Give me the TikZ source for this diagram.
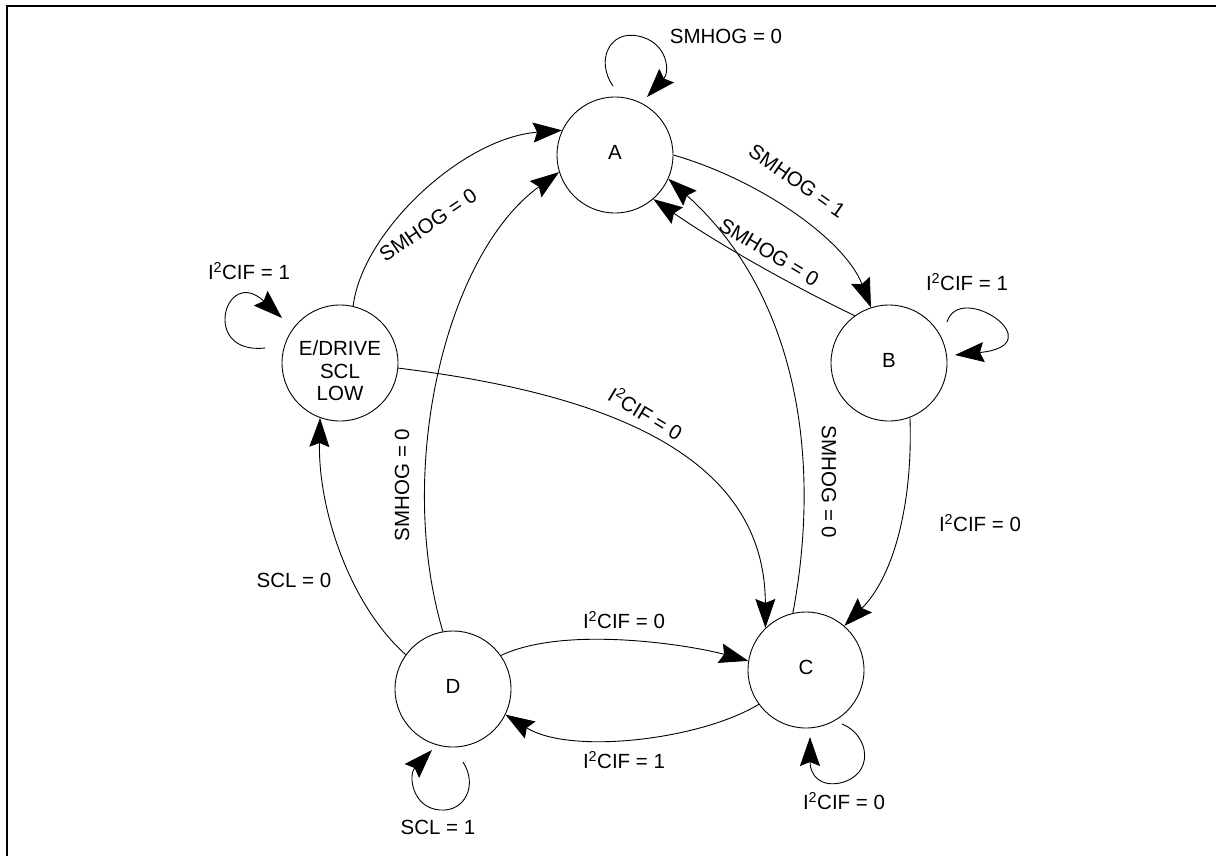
\documentclass[tikz,border=0pt]{standalone}
\usepackage{fontspec}
\setmainfont{Liberation Sans}
\usetikzlibrary{arrows.meta}
\newcommand\lblfont{\fontsize{20.5pt}{22.5pt}\selectfont}
\begin{document}
\begin{tikzpicture}[x=1pt,y=-1pt,
  state/.style={circle,draw,line width=0.9pt,minimum size=116pt,inner sep=0pt,font=\lblfont,text height=14.7pt,text depth=6pt},
  lbl/.style={font=\lblfont,inner sep=0pt},
  arr/.style={line width=0.9pt,-{Stealth[length=29pt,width=20pt,inset=4pt]}}]
\useasboundingbox (0,0) rectangle (1216,855);
\draw[line width=2.3pt] (7,860) -- (7,5.7) -- (1220,5.7);
% states
\node[state] (A) at (615,155) {A};
\node[state] (B) at (889,363) {B};
\node[state] (E) at (340,363) {};
\node[lbl,align=center] (Etext) at (340,371) {E/DRIVE\\SCL\\LOW};
\node[state] (D) at (453,689) {D};
\node[state] (C) at (806,670) {C};
% transitions
\draw[arr] (A.0) .. controls (760,180) and (845,240) .. (B.108);
\draw[arr] (B.126) .. controls (785,282) and (717,243) .. (A.-49);
\draw[arr] (C.103) .. controls (820,470) and (803,300) .. (A.-24);
\draw[arr] (B.-69) .. controls (913,500) and (895,575) .. (C.49);
\draw[arr] (E.77) .. controls (362,232) and (462,138) .. (A.155);
\draw[arr] (E.-5) .. controls (600,393) and (765,452) .. (C.134);
\draw[arr] (D.100) .. controls (395,470) and (445,255) .. (A.-163);
\draw[arr] (D.144) .. controls (350,605) and (318,510) .. (E.-110);
\draw[arr] (D.35) .. controls (565,625) and (690,645) .. (C.171);
\draw[arr] (C.-144) .. controls (700,740) and (570,755) .. (D.-26);
% self loops
\coordinate (Aa) at (613,86); \coordinate (Ab) at (647,97);
\draw[arr] (Aa) .. controls (595,60) and (610,30) .. (638,36) .. controls (668,42) and (670,72) .. (Ab);
\coordinate (Ea) at (265,348); \coordinate (Eb) at (282,318);
\draw[arr] (Ea) .. controls (200,355) and (225,265) .. (Eb);
\coordinate (Ba) at (947,322); \coordinate (Bb) at (955,355);
\draw[arr] (Ba) .. controls (960,280) and (1055,345) .. (Bb);
\coordinate (Da) at (463,762); \coordinate (Db) at (432,750);
\draw[arr] (Da) .. controls (478,785) and (465,812) .. (440,810) .. controls (412,808) and (408,775) .. (Db);
\coordinate (Ca) at (842,724); \coordinate (Cb) at (810,737);
\draw[arr] (Ca) .. controls (870,735) and (875,775) .. (840,783) .. controls (820,787) and (810,775) .. (Cb);
% labels
\node[lbl] (lAA) at (726,36) {SMHOG = 0};
\node[lbl,rotate=-35] (lAB) at (797,181) {SMHOG = 1};
\node[lbl,rotate=-31] (lBA) at (769,252) {SMHOG = 0};
\node[lbl,rotate=-90] (lCA) at (829,482) {SMHOG = 0};
\node[lbl] (lBB) at (967,282) {I\textsuperscript{2}CIF = 1};
\node[lbl] (lBC) at (980,523) {I\textsuperscript{2}CIF = 0};
\node[lbl,rotate=34] (lEA) at (428,225) {SMHOG = 0};
\node[lbl] (lEE) at (249,271) {I\textsuperscript{2}CIF = 1};
\node[lbl,rotate=-31] (lEC) at (646,413) {I\textsuperscript{2}CIF = 0};
\node[lbl,rotate=90] (lDA) at (402,485) {SMHOG = 0};
\node[lbl] (lDE) at (294,580) {SCL = 0};
\node[lbl] (lDC) at (624,620) {I\textsuperscript{2}CIF = 0};
\node[lbl] (lCD) at (624,760) {I\textsuperscript{2}CIF = 1};
\node[lbl] (lDD) at (438,827) {SCL = 1};
\node[lbl] (lCC) at (844,801) {I\textsuperscript{2}CIF = 0};
\end{tikzpicture}
\end{document}
